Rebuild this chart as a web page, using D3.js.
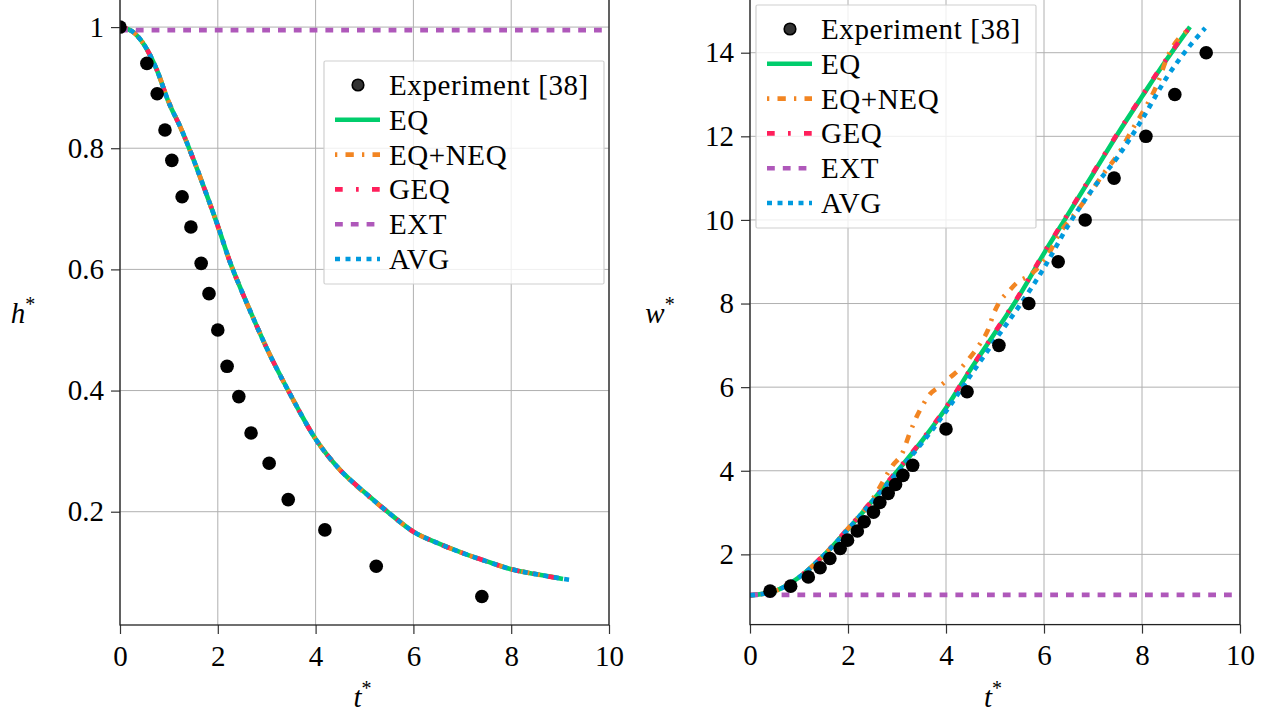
<!DOCTYPE html>
<html>
<head>
<meta charset="utf-8">
<script src="https://cdn.jsdelivr.net/npm/d3@7"></script>
<style>
  html, body { margin: 0; padding: 0; background: #fff; }
  svg { display: block; }
  svg text { font-family: "Liberation Serif", "Times New Roman", serif !important; fill: #000; }
</style>
</head>
<body>
<svg id="chart" width="1273" height="715"></svg>
<script>
// ---- Height h* versus time t* ----
const expTimeH = [0, 0.55, 0.76, 0.92, 1.06, 1.27, 1.45, 1.66, 1.82, 2.0, 2.19, 2.43, 2.68, 3.05, 3.44, 4.19, 5.24, 7.40];
const expHeight = [1.0, 0.94, 0.89, 0.83, 0.78, 0.72, 0.67, 0.61, 0.56, 0.50, 0.44, 0.39, 0.33, 0.28, 0.22, 0.17, 0.11, 0.06];

const simTimeH = [0, 0.25, 0.5, 0.75, 1.0, 1.25, 1.5, 1.75, 2.0, 2.25, 2.5, 2.75, 3.0, 3.5, 4.0, 4.5, 5.0, 5.5, 6.0, 6.5, 7.0, 7.5, 8.0, 8.5, 9.06];
const heightEQ    = [1.0, 0.993, 0.97, 0.93, 0.875, 0.832, 0.782, 0.728, 0.672, 0.612, 0.562, 0.515, 0.47, 0.391, 0.32, 0.269, 0.232, 0.198, 0.167, 0.148, 0.132, 0.118, 0.105, 0.097, 0.089];
const heightEQNEQ = [1.0, 0.993, 0.97, 0.93, 0.876, 0.832, 0.782, 0.728, 0.671, 0.612, 0.562, 0.515, 0.47, 0.391, 0.32, 0.269, 0.231, 0.198, 0.167, 0.148, 0.132, 0.118, 0.105, 0.097, 0.089];
const heightGEQ   = [1.0, 0.993, 0.97, 0.93, 0.875, 0.832, 0.782, 0.728, 0.672, 0.612, 0.562, 0.515, 0.47, 0.391, 0.32, 0.269, 0.232, 0.198, 0.167, 0.148, 0.132, 0.118, 0.105, 0.097, 0.089];
const extTimeH = [0, 10];
const heightEXT = [0.995, 0.995];
const avgTimeH = [0, 0.25, 0.5, 0.75, 1.0, 1.25, 1.5, 1.75, 2.0, 2.25, 2.5, 2.75, 3.0, 3.5, 4.0, 4.5, 5.0, 5.5, 6.0, 6.5, 7.0, 7.5, 8.0, 8.5, 9.0, 9.26];
const heightAVG = [1.0, 0.993, 0.97, 0.93, 0.875, 0.832, 0.782, 0.728, 0.672, 0.612, 0.562, 0.515, 0.47, 0.391, 0.32, 0.269, 0.232, 0.198, 0.167, 0.148, 0.132, 0.118, 0.105, 0.097, 0.090, 0.087];

// ---- Width w* versus time t* ----
const expTimeW = [0.41, 0.83, 1.19, 1.43, 1.63, 1.84, 1.99, 2.19, 2.33, 2.52, 2.65, 2.82, 2.97, 3.12, 3.32, 4.0, 4.43, 5.08, 5.69, 6.29, 6.84, 7.43, 8.08, 8.67, 9.31];
const expWidth = [1.12, 1.24, 1.46, 1.68, 1.90, 2.14, 2.34, 2.56, 2.78, 3.01, 3.24, 3.46, 3.67, 3.89, 4.13, 5.0, 5.89, 7.0, 8.0, 9.0, 10.0, 11.0, 12.0, 13.0, 14.0];

const simTimeW = [0, 0.5, 1.0, 1.5, 2.0, 2.5, 3.0, 3.5, 4.0, 4.5, 5.0, 5.5, 6.0, 6.5, 7.0, 7.5, 8.0, 8.5, 8.98];
const widthEQ  = [1.02, 1.12, 1.45, 1.97, 2.6, 3.28, 3.98, 4.7, 5.5, 6.42, 7.3, 8.2, 9.2, 10.15, 11.1, 12.05, 12.95, 13.83, 14.62];
const widthGEQ = [1.02, 1.13, 1.46, 1.98, 2.62, 3.3, 4.0, 4.72, 5.52, 6.43, 7.32, 8.22, 9.22, 10.17, 11.12, 12.07, 12.97, 13.85, 14.62];
const eqneqTime = [0, 0.5, 1, 1.5, 2, 2.5, 2.92, 3.1, 3.27, 3.4, 3.55, 3.67, 3.85, 4.08, 4.3, 4.49, 4.7, 4.85, 4.97, 5.1, 5.27, 5.45, 5.71, 6.06, 6.33, 6.6, 6.94, 7.21, 7.5, 7.82, 8.1, 8.33, 8.5, 8.78, 8.92];
const widthEQNEQ = [1.02, 1.12, 1.45, 1.97, 2.62, 3.32, 4.14, 4.4, 4.93, 5.29, 5.62, 5.83, 6.0, 6.23, 6.45, 6.71, 7.05, 7.35, 7.75, 8.05, 8.28, 8.5, 8.68, 9.12, 9.7, 10.1, 10.64, 11.1, 11.55, 12.2, 12.75, 13.3, 13.85, 14.38, 14.52];
const extTimeW = [0, 10];
const widthEXT = [1.03, 1.03];
const avgTimeW = [0, 0.5, 1.0, 1.5, 2.0, 2.5, 3.0, 3.5, 4.0, 4.5, 5.0, 5.5, 6.0, 6.5, 7.0, 7.5, 8.0, 8.5, 9.0, 9.29];
const widthAVG = [1.02, 1.12, 1.45, 1.97, 2.6, 3.27, 3.95, 4.65, 5.42, 6.28, 7.12, 7.95, 8.85, 9.88, 10.75, 11.5, 12.4, 13.4, 14.2, 14.59];

// ---- Axes ticks ----
const timeTicks = [0, 2, 4, 6, 8, 10];
const timeTickLabels = ["0", "2", "4", "6", "8", "10"];
const heightTicks = [0.2, 0.4, 0.6, 0.8, 1];
const heightTickLabels = ["0.2", "0.4", "0.6", "0.8", "1"];
const widthTicks = [2, 4, 6, 8, 10, 12, 14];
const widthTickLabels = ["2", "4", "6", "8", "10", "12", "14"];

// ---- Series names and styles ----
const seriesNames = ["Experiment [38]", "EQ", "EQ+NEQ", "GEQ", "EXT", "AVG"];
const seriesStyle = {
  "EQ":     { color: "#00cd6c", dash: null },
  "EQ+NEQ": { color: "#f28522", dash: "2.3,8.2,8.3,8.2" },
  "GEQ":    { color: "#ff1f5b", dash: "7.7,13.3,2.7,13.3" },
  "EXT":    { color: "#af58ba", dash: "7.8,8" },
  "AVG":    { color: "#009ade", dash: "5,5.5" }
};
const LINE_W = 4.6;
const FONT = 29;

const svg = d3.select("#chart");

function zip(xs, ys) { return xs.map((x, i) => [x, ys[i]]); }

function drawPanel(p) {
  const x = d3.scaleLinear().domain(p.xDomain).range([p.left, p.right]);
  const y = d3.scaleLinear().domain(p.yDomain).range([p.bottom, p.top]);
  const g = svg.append("g");
  const clipId = "clip-" + p.id;
  svg.append("clipPath").attr("id", clipId).append("rect")
    .attr("x", p.left).attr("y", p.top)
    .attr("width", p.right - p.left).attr("height", p.bottom - p.top);

  // grid
  const grid = g.append("g").attr("stroke", "#b0b0b0").attr("stroke-width", 1);
  timeTicks.forEach(t => {
    grid.append("line").attr("x1", x(t)).attr("x2", x(t))
      .attr("y1", p.top).attr("y2", p.bottom);
  });
  p.yTicks.forEach(v => {
    grid.append("line").attr("x1", p.left).attr("x2", p.right)
      .attr("y1", y(v)).attr("y2", y(v));
  });

  // model curves
  const line = d3.line().x(d => x(d[0])).y(d => y(d[1])).curve(d3.curveMonotoneX);
  const curves = g.append("g").attr("clip-path", `url(#${clipId})`);
  p.series.forEach(s => {
    const st = seriesStyle[s.name];
    curves.append("path")
      .datum(zip(s.t, s.v))
      .attr("d", line)
      .attr("fill", "none")
      .attr("stroke", st.color)
      .attr("stroke-width", LINE_W)
      .attr("stroke-dasharray", st.dash)
      .attr("stroke-linecap", "butt");
  });

  // experiment markers
  g.append("g").attr("clip-path", `url(#${clipId})`)
    .selectAll("circle").data(zip(p.expT, p.expV)).join("circle")
    .attr("cx", d => x(d[0])).attr("cy", d => y(d[1])).attr("r", 6.8)
    .attr("fill", "#000");

  // axes
  const xAxis = d3.axisBottom(x).tickValues(timeTicks)
    .tickFormat((d, i) => timeTickLabels[i]).tickSize(9).tickPadding(11);
  const yAxis = d3.axisLeft(y).tickValues(p.yTicks)
    .tickFormat((d, i) => p.yTickLabels[i]).tickSize(9).tickPadding(7);
  const ax = g.append("g").attr("transform", `translate(0,${p.bottom})`).call(xAxis);
  const ay = g.append("g").attr("transform", `translate(${p.left},0)`).call(yAxis);
  [ax, ay].forEach(a => {
    a.attr("font-family", null).attr("font-size", null);
    a.select(".domain").remove();
    a.selectAll(".tick line").attr("stroke", "#333").attr("stroke-width", 1.2);
    a.selectAll(".tick text").style("font-size", FONT + "px").attr("fill", "#000");
  });

  // frame
  g.append("rect").attr("x", p.left).attr("y", p.top)
    .attr("width", p.right - p.left).attr("height", p.bottom - p.top)
    .attr("fill", "none").attr("stroke", "#222").attr("stroke-width", 1.3);

  // axis labels
  const xl = g.append("text").attr("x", (p.left + p.right) / 2 - 2).attr("y", p.bottom + 82)
    .attr("text-anchor", "middle").style("font-size", FONT + "px");
  xl.append("tspan").style("font-style", "italic").text("t");
  xl.append("tspan").attr("dy", -12).style("font-size", "20px").text("*");
  const yl = g.append("text").attr("x", p.yLabelX).attr("y", 323)
    .attr("text-anchor", "middle").style("font-size", FONT + "px");
  yl.append("tspan").style("font-style", "italic").text(p.yLabel);
  yl.append("tspan").attr("dy", -12).style("font-size", "20px").text("*");

  // legend
  const L = p.legend;
  const lg = g.append("g");
  lg.append("rect").attr("x", L.x).attr("y", L.y).attr("width", 280).attr("height", 223)
    .attr("fill", "#fff").attr("fill-opacity", 0.8)
    .attr("stroke", "#d0d0d0").attr("stroke-width", 1.2).attr("rx", 1.5);
  seriesNames.forEach((name, i) => {
    const cy = L.y + 24 + i * 34.8;
    if (i === 0) {
      lg.append("circle").attr("cx", L.x + 34).attr("cy", cy).attr("r", 5.8)
        .attr("fill", "#333").attr("stroke", "#000").attr("stroke-width", 1.6);
    } else {
      const st = seriesStyle[name];
      lg.append("line").attr("x1", L.x + 11).attr("x2", L.x + 56)
        .attr("y1", cy).attr("y2", cy)
        .attr("stroke", st.color).attr("stroke-width", LINE_W)
        .attr("stroke-dasharray", st.dash);
    }
    lg.append("text").attr("x", L.x + 65).attr("y", cy + 10)
      .style("font-size", FONT + "px").style("letter-spacing", "0.6px").text(name);
  });
}

drawPanel({
  id: "h", left: 120, right: 609, top: -1.4, bottom: 625,
  xDomain: [0, 10], yDomain: [0.013, 1.047],
  yTicks: heightTicks, yTickLabels: heightTickLabels, yLabel: "h", yLabelX: 23,
  expT: expTimeH, expV: expHeight,
  series: [
    { name: "EQ", t: simTimeH, v: heightEQ },
    { name: "EQ+NEQ", t: simTimeH, v: heightEQNEQ },
    { name: "GEQ", t: simTimeH, v: heightGEQ },
    { name: "EXT", t: extTimeH, v: heightEXT },
    { name: "AVG", t: avgTimeH, v: heightAVG }
  ],
  legend: { x: 324, y: 61 }
});

drawPanel({
  id: "w", left: 750, right: 1240, top: -0.8, bottom: 624.6,
  xDomain: [0, 10], yDomain: [0.32, 15.28],
  yTicks: widthTicks, yTickLabels: widthTickLabels, yLabel: "w", yLabelX: 660,
  expT: expTimeW, expV: expWidth,
  series: [
    { name: "EQ", t: simTimeW, v: widthEQ },
    { name: "EQ+NEQ", t: eqneqTime, v: widthEQNEQ },
    { name: "GEQ", t: simTimeW, v: widthGEQ },
    { name: "EXT", t: extTimeW, v: widthEXT },
    { name: "AVG", t: avgTimeW, v: widthAVG }
  ],
  legend: { x: 756, y: 5 }
});
</script>
</body>
</html>
